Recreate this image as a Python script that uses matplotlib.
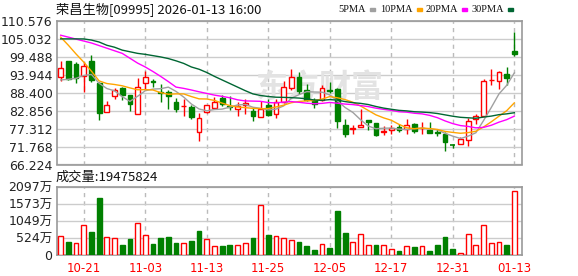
import matplotlib
matplotlib.use('Agg')
import matplotlib.pyplot as plt
from matplotlib.patches import Rectangle

dates = ['10-16', '10-17', '10-20', '10-21', '10-22', '10-23', '10-24', '10-27', '10-28', '10-30',
         '10-31', '11-03', '11-04', '11-05', '11-06', '11-07', '11-10', '11-11', '11-12', '11-13',
         '11-14', '11-17', '11-18', '11-19', '11-20', '11-21', '11-24', '11-25', '11-26', '11-27',
         '11-28', '12-01', '12-02', '12-03', '12-04', '12-05', '12-08', '12-09', '12-10', '12-11',
         '12-12', '12-15', '12-16', '12-17', '12-18', '12-19', '12-22', '12-23', '12-24', '12-29',
         '12-30', '12-31', '01-02', '01-05', '01-06', '01-07', '01-08', '01-09', '01-12', '01-13']

open_ = [93.11, 98.10, 97.29, 93.62, 98.10, 91.27, 82.31, 87.20, 89.85, 87.61,
         81.80, 91.27, 91.88, 88.62, 88.73, 85.47, 84.14, 84.04, 76.29, 82.41,
         83.63, 86.79, 84.30, 83.22, 84.45, 82.82, 80.88, 84.65, 81.90, 85.47,
         89.75, 93.11, 89.24, 85.97, 85.97, 89.24, 89.54, 78.53, 77.21, 77.82,
         80.06, 79.05, 76.40, 77.01, 77.72, 77.31, 78.74, 77.41, 77.01, 76.20,
         75.78, 72.42, 72.52, 73.75, 80.37, 81.08, 92.19, 91.88, 94.13, 101.16]
high = [98.10, 98.10, 97.69, 97.69, 99.93, 91.58, 85.87, 89.75, 90.05, 87.81,
        92.80, 94.94, 92.60, 91.07, 89.34, 86.79, 86.48, 84.45, 82.20, 84.65,
        87.00, 87.71, 87.30, 85.47, 86.48, 83.63, 85.67, 86.28, 86.48, 91.99,
        95.66, 94.64, 91.07, 86.69, 90.76, 91.78, 89.75, 80.17, 78.53, 83.22,
        80.06, 79.05, 78.13, 78.33, 78.74, 80.37, 78.94, 79.35, 79.35, 77.31,
        76.29, 72.42, 74.77, 80.57, 81.90, 92.60, 95.66, 95.15, 96.16, 107.07]
low = [92.09, 92.29, 91.27, 88.73, 91.58, 79.86, 82.31, 86.28, 85.97, 82.61,
       81.80, 89.24, 90.05, 85.47, 83.43, 82.41, 81.19, 80.37, 73.44, 82.00,
       83.22, 84.24, 82.92, 81.08, 81.69, 79.55, 80.88, 81.19, 80.57, 85.26,
       89.34, 88.01, 85.67, 83.63, 85.67, 88.32, 77.52, 74.77, 75.48, 77.82,
       76.80, 74.97, 75.29, 75.78, 76.29, 75.58, 76.09, 75.78, 75.95, 74.97,
       70.49, 71.20, 72.52, 71.91, 78.84, 81.08, 90.76, 89.54, 90.76, 99.73]
close = [95.86, 92.60, 92.80, 96.47, 92.29, 82.20, 84.55, 89.13, 87.71, 84.85,
         90.05, 93.11, 91.68, 88.32, 87.30, 83.43, 84.34, 80.98, 80.68, 84.45,
         85.47, 84.96, 84.00, 84.14, 85.16, 81.19, 83.33, 81.39, 85.47, 90.05,
         93.11, 88.83, 85.97, 84.96, 89.75, 88.93, 79.55, 75.78, 77.41, 78.53,
         79.25, 75.29, 76.60, 77.62, 77.01, 78.53, 76.60, 77.62, 76.00, 75.90,
         73.03, 72.32, 73.95, 79.66, 81.08, 91.88, 92.39, 94.84, 92.90, 100.34]
# volume in 万 shares
volume = [570, 397, 356, 906, 702, 1741, 540, 509, 305, 478,
          967, 600, 336, 519, 550, 366, 356, 428, 733, 478,
          265, 275, 305, 295, 356, 519, 1517, 611, 570, 509,
          448, 397, 275, 153, 326, 214, 1344, 672, 387, 631,
          295, 305, 295, 173, 122, 275, 244, 265, 122, 305,
          550, 183, 61, 631, 295, 906, 356, 387, 305, 1947.58]

ma5 = [92.30, 92.50, 92.80, 93.70, 94.00, 91.27, 89.66, 88.93, 87.18, 85.69,
       87.26, 88.97, 89.48, 89.60, 90.09, 88.77, 87.01, 84.87, 83.35, 82.78,
       83.18, 83.31, 83.91, 84.60, 84.75, 83.89, 83.56, 83.04, 83.31, 84.29,
       86.67, 87.77, 88.69, 88.58, 88.52, 87.69, 85.83, 83.79, 82.28, 80.04,
       78.10, 77.25, 77.42, 77.46, 77.15, 77.01, 77.27, 77.48, 77.15, 76.93,
       75.83, 74.97, 74.24, 74.97, 76.01, 79.78, 83.79, 87.97, 90.62, 94.47]
ma10 = [105.50, 103.00, 100.30, 97.80, 95.00, 92.00, 91.20, 90.90, 90.50, 89.85,
        89.27, 89.32, 89.20, 88.39, 87.89, 88.01, 87.99, 87.18, 86.47, 86.43,
        85.98, 85.16, 84.39, 83.98, 83.76, 83.54, 83.44, 83.48, 83.96, 84.52,
        85.28, 85.67, 85.86, 85.95, 86.41, 87.18, 86.80, 86.24, 85.43, 84.28,
        82.90, 81.54, 80.61, 79.87, 78.60, 77.56, 77.26, 77.45, 77.31, 77.04,
        76.42, 76.12, 75.86, 76.06, 76.47, 77.80, 79.38, 81.11, 82.80, 85.24]
ma20 = [106.10, 105.50, 104.90, 104.30, 103.70, 102.90, 102.10, 101.30, 100.50, 99.00,
        97.50, 96.30, 94.90, 93.40, 91.80, 90.10, 89.70, 89.20, 88.65, 88.14,
        87.62, 87.24, 86.80, 86.18, 85.83, 85.78, 85.71, 85.33, 85.22, 85.48,
        85.63, 85.41, 85.13, 84.96, 85.08, 85.36, 85.12, 84.86, 84.70, 84.40,
        84.09, 83.60, 83.23, 82.91, 82.50, 82.37, 82.03, 81.84, 81.37, 80.66,
        79.66, 78.83, 78.23, 77.97, 77.53, 77.68, 78.32, 79.28, 80.05, 81.14]
ma30 = [104.97, 104.97, 104.97, 104.95, 104.60, 104.00, 103.00, 102.40, 101.50, 101.00,
        100.50, 100.20, 99.80, 99.40, 98.90, 98.20, 97.40, 96.30, 95.60, 94.60,
        93.40, 92.30, 91.20, 90.10, 89.00, 88.00, 87.50, 87.20, 86.98, 86.93,
        86.84, 86.71, 86.49, 86.10, 86.02, 86.24, 86.08, 85.63, 85.29, 85.08,
        84.72, 84.12, 83.62, 83.26, 82.92, 82.76, 82.50, 82.39, 82.23, 81.95,
        81.53, 81.11, 80.78, 80.63, 80.49, 80.85, 81.15, 81.60, 81.84, 82.19]

tick_dates = ['10-21', '11-03', '11-13', '11-25', '12-05', '12-17', '12-31', '01-13']
price_ticks = ['66.224', '71.768', '77.312', '82.856', '88.400', '93.944', '99.488', '105.032', '110.576']
vol_ticks = ['0', '524万', '1049万', '1573万', '2097万']

RED = '#ff0000'
GREEN = '#008000'
W, H = 578, 276

fig = plt.figure(figsize=(W / 100, H / 100), dpi=100)
fig.patch.set_facecolor('white')
ax = fig.add_axes([56.7 / W, 1 - 164.5 / H, 465.3 / W, 143.8 / H])
ax2 = fig.add_axes([56.7 / W, 1 - 255 / H, 465.3 / W, 68.5 / H])

x = list(range(len(dates)))
tick_idx = [dates.index(d) for d in tick_dates]
pvals = [float(v) for v in price_ticks]
vvals = [0, 524.25, 1048.5, 1572.75, 2097]

# watermark
ax.text(0.565, 0.53, '东方财富', transform=ax.transAxes, fontsize=23, color='#e3e3e3',
        family=['Noto Sans CJK SC'], fontweight='bold', ha='center', va='center', zorder=1)

# candles
for i in x:
    up = close[i] >= open_[i]
    col = RED if up else GREEN
    ax.vlines(i, low[i], high[i], color=col, lw=1, zorder=3)
    lo, hi = min(open_[i], close[i]), max(open_[i], close[i])
    if hi - lo < 0.15:
        ax.hlines(lo, i - 0.33, i + 0.33, color=col, lw=1.2, zorder=4)
    else:
        ax.add_patch(Rectangle((i - 0.31, lo), 0.62, hi - lo, facecolor='white' if up else col,
                               edgecolor=col, lw=1, zorder=4))

ax.plot(x, ma5, color='#a0a0a0', lw=1, zorder=5)
ax.plot(x, ma10, color='#ffa500', lw=1, zorder=5)
ax.plot(x, ma20, color='#ff00ff', lw=1, zorder=5)
ax.plot(x, ma30, color='#006633', lw=1, zorder=5)

# volume
for i in x:
    vup = i == 0 or close[i] >= close[i - 1]
    ax2.bar(i, volume[i], width=0.62, facecolor='white' if vup else GREEN,
            edgecolor=RED if vup else GREEN, lw=1, zorder=3)

for a in (ax, ax2):
    a.set_axisbelow(True)
    a.set_xlim(-0.52, 60.0)
    a.set_xticks(tick_idx)
    a.grid(True, axis='y', color='#cccccc', lw=1, ls='-')
    a.grid(True, axis='x', color='#bbbbbb', lw=1, ls=(0, (3, 3)))
    a.tick_params(length=0)
    for s in a.spines.values():
        s.set_color('#999999')
        s.set_linewidth(1.2)

ax.set_ylim(pvals[0], pvals[-1])
ax.set_yticks(pvals)
ax.set_yticklabels(price_ticks, fontsize=9, color='#222222')
ax.tick_params(axis='y', pad=3)
ax.set_xticklabels([])

ax2.set_ylim(0, 2097)
ax2.set_yticks(vvals)
ax2.set_yticklabels(vol_ticks, fontsize=9, color='#222222', family=['DejaVu Sans', 'Noto Sans CJK SC'])
ax2.tick_params(axis='y', pad=3)
ax2.set_xticklabels(tick_dates, fontsize=8.5, color=RED)
ax2.tick_params(axis='x', pad=5)

fig.text(56 / W, 1 - 9 / H, '荣昌生物[09995] 2026-01-13 16:00', fontsize=9.5,
         family=['Noto Sans CJK SC', 'DejaVu Sans'], va='center', ha='left', color='#111111')
fig.text(56 / W, 1 - 177.5 / H, '成交量:19475824', fontsize=9.5,
         family=['Noto Sans CJK SC', 'DejaVu Sans'], va='center', ha='left', color='#111111')

# legend
legend = [('5PMA', 338.5, '#a0a0a0'), ('10PMA', 380.5, '#ffa500'),
          ('20PMA', 425.5, '#ff00ff'), ('30PMA', 471, '#006633')]
for lab, lx, col in legend:
    t = fig.text(lx / W, 1 - 9 / H, lab, fontsize=7.5, family='Liberation Serif',
                 va='center', ha='left', color='#111111')
    fig.canvas.draw()
    bb = t.get_window_extent()
    fig.add_artist(Rectangle(((bb.x1 + 4) / W, 1 - 11 / H), 5 / W, 2.5 / H,
                             transform=fig.transFigure, color=col))

fig.savefig('out.png', dpi=100, facecolor='white')
